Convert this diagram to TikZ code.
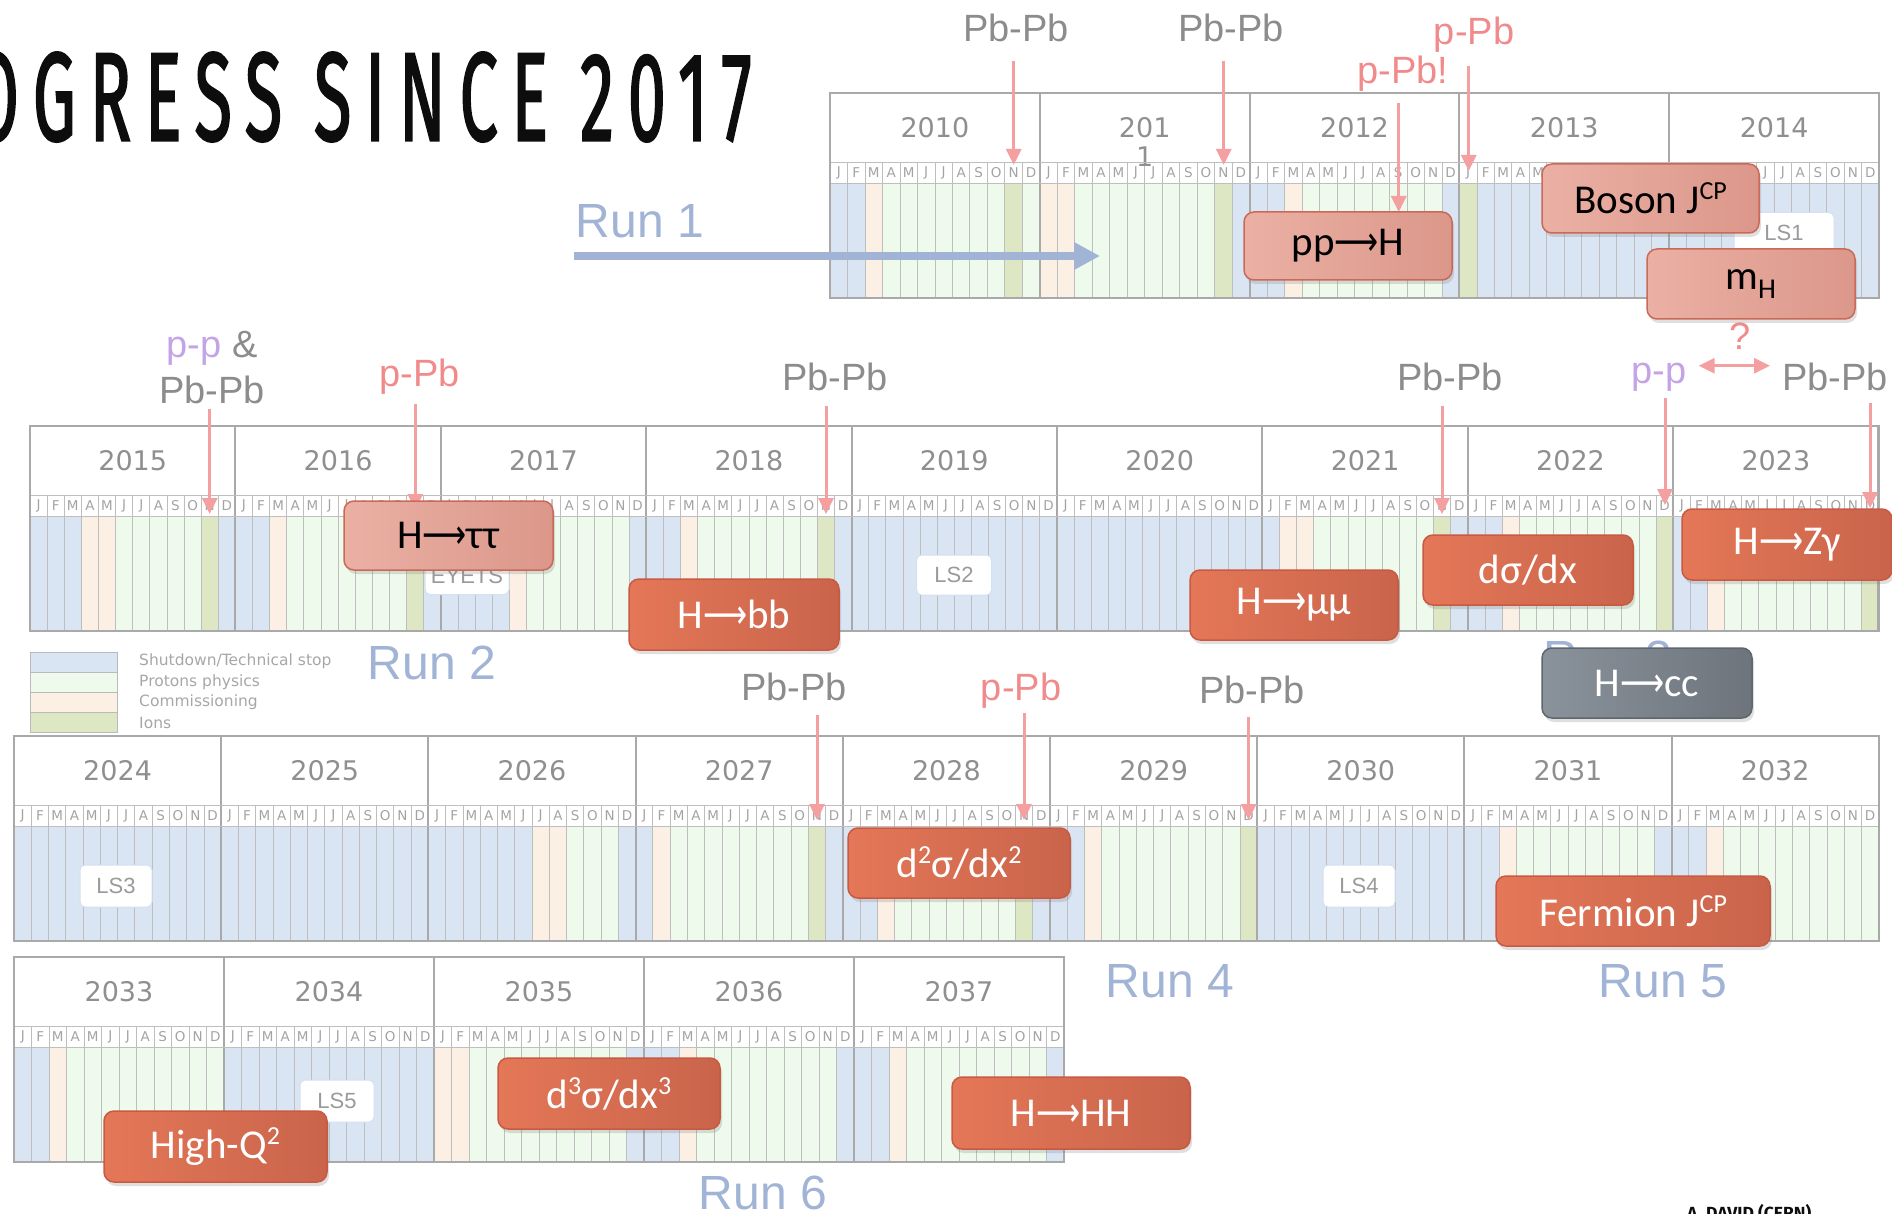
\documentclass[tikz,border=0pt]{standalone}
\usepackage{fontspec}
\setmainfont{DejaVu Sans}
\newfontfamily\lblfont{Liberation Sans}
\newfontfamily\boxfont{Carlito}
\newfontfamily\titlefont[LetterSpace=20,FakeBold=2]{Fira Sans}
\newfontfamily\authorfont{Fira Sans}
\newfontfamily\arrfont{DejaVu Sans}
\usetikzlibrary{arrows.meta}
\usetikzlibrary{shadows}

\definecolor{mB}{HTML}{DAE5F4}
\definecolor{mG}{HTML}{EEFAEC}
\definecolor{mC}{HTML}{FCEFE3}
\definecolor{mI}{HTML}{DDE7C4}
\definecolor{gridgrey}{HTML}{A9A9A9}
\definecolor{yeargrey}{HTML}{8F8F8F}
\definecolor{monthgrey}{HTML}{A3A3A3}
\definecolor{runblue}{HTML}{A1B4D5}
\definecolor{ionpink}{HTML}{F5A0A0}
\definecolor{pinktext}{HTML}{F18B8B}
\definecolor{pbgrey}{HTML}{8C8C8C}
\definecolor{pplilac}{HTML}{C4A4E6}
\definecolor{resred}{HTML}{E47757}
\definecolor{resreddark}{HTML}{C9644B}
\definecolor{resedge}{HTML}{C85A43}
\definecolor{respink}{HTML}{EBB0A4}
\definecolor{respinkdark}{HTML}{DB978A}
\definecolor{respinkedge}{HTML}{C96A58}
\definecolor{resgrey}{HTML}{8A929B}
\definecolor{resgreydark}{HTML}{6D747C}
\definecolor{resgreyedge}{HTML}{5F666D}
\definecolor{lsedge}{HTML}{D3E1F1}
\definecolor{lstext}{HTML}{9A9A9A}
\definecolor{legtextgrey}{HTML}{A7A7A7}

\newcommand{\hto}{{\arrfont\scalebox{0.75}[1]{⟶}}}
\newcommand{\upidx}[1]{\raisebox{14pt}{\fontsize{26}{26}\selectfont #1}}
\newcommand{\yrlabel}[1]{\ifnum#1=2011 201\\1\else#1\fi}
\newcommand{\calrow}[5]{%
  \pgfmathsetmacro{\mw}{#3/12}%
  \foreach \yr/\codes [count=\k from 0] in {#5} {%
    \pgfmathsetmacro{\xa}{#1+\k*#3}%
    \foreach \c [count=\m from 0] in \codes
      \fill[fill=m\c] (\xa+\m*\mw,#2+90) rectangle ++(\mw,115);
    \foreach \ml [count=\m from 0] in {J,F,M,A,M,J,J,A,S,O,N,D} {
      \draw[monthline] (\xa+\m*\mw,#2+69) -- ++(0,136);
      \node[monthtext] (m\yr-\m) at (\xa+\m*\mw+\mw/2,#2+79.5) {\ml};
    }
    \node[yeartext] (y\yr) at (\xa+#3/2,#2+24) {\yrlabel{\yr}};
    \draw[yearline] (\xa,#2) -- ++(0,205);
  }%
  \draw[monthline] (#1,#2+69) -- ++(#3*#4,0) (#1,#2+90) -- ++(#3*#4,0);
  \draw[calframe] (#1,#2) rectangle ++(#3*#4,205);
}

\begin{document}
\begin{tikzpicture}[x=1pt,y=-1pt,
  monthline/.style={draw=gridgrey!75,line width=0.8pt},
  yearline/.style={draw=gridgrey,line width=2pt},
  calframe/.style={draw=gridgrey,line width=2.5pt},
  yeartext/.style={anchor=north,inner sep=0pt,align=center,text=yeargrey,font=\fontsize{27}{29}\selectfont},
  monthtext/.style={inner sep=0pt,text=monthgrey,font=\fontsize{13.5}{13.5}\selectfont},
  lsbox/.style={rounded corners=5pt,fill=white,draw=lsedge,line width=1pt,text=lstext,inner sep=0pt,font=\lblfont\fontsize{22}{22}\selectfont},
  runtext/.style={anchor=base,inner sep=2pt,text=runblue,font=\lblfont\fontsize{48}{48}\selectfont},
  iontext/.style={anchor=base,inner sep=2pt,text=pbgrey,font=\lblfont\fontsize{38}{38}\selectfont},
  pbtext/.style={iontext,text=pinktext},
  pptext/.style={iontext,text=pplilac},
  ionarrow/.style={draw=ionpink,line width=3pt,-{Triangle[length=16pt,width=15pt]}},
  runarrow/.style={draw=runblue,line width=8pt,-{Triangle[length=26pt,width=26pt]}},
  resbox/.style={rounded corners=10pt,line width=1.5pt,draw=resedge,left color=resred,right color=resreddark,
    text=white,inner sep=0pt,minimum height=70pt,font=\boxfont\fontsize{41}{44}\selectfont,
    drop shadow={opacity=0.25,shadow xshift=2pt,shadow yshift=-4pt}},
  pinkbox/.style={resbox,draw=respinkedge,left color=respink,right color=respinkdark,text=black},
  greybox/.style={resbox,draw=resgreyedge,left color=resgrey,right color=resgreydark},
  legswatch/.style={draw=gridgrey!80,line width=1pt,minimum width=87pt,minimum height=20pt,inner sep=0pt},
  legtext/.style={anchor=west,inner sep=0pt,text=legtextgrey,font=\fontsize{15.5}{15.5}\selectfont},
  titletext/.style={inner sep=0pt,text=black!95}]
\useasboundingbox (0,0) rectangle (1892,1214);
\clip (0,0) rectangle (1892,1214);

\calrow{830}{93}{209.8}{5}{2010/{B,B,C,G,G,G,G,G,G,G,I,G},2011/{C,C,G,G,G,G,G,G,G,G,I,B},2012/{B,B,C,G,G,G,G,G,G,G,G,B},2013/{I,B,B,B,B,B,B,B,B,B,B,B},2014/{B,B,B,B,B,B,B,B,B,B,B,B}}
\calrow{30}{426}{205.4}{9}{2015/{B,B,B,C,C,G,G,G,G,G,I,B},2016/{B,B,C,G,G,G,G,G,G,G,I,B},2017/{B,B,B,B,C,G,G,G,G,G,G,B},2018/{B,B,C,G,G,G,G,G,G,G,I,B},2019/{B,B,B,B,B,B,B,B,B,B,B,B},2020/{B,B,B,B,B,B,B,B,B,B,B,B},2021/{B,C,C,G,G,G,G,G,G,G,I,B},2022/{B,B,C,G,G,G,G,G,G,G,G,I},2023/{B,B,C,G,G,G,G,G,G,G,G,I}}
\calrow{14}{736}{207.2}{9}{2024/{B,B,B,B,B,B,B,B,B,B,B,B},2025/{B,B,B,B,B,B,B,B,B,B,B,B},2026/{B,B,B,B,B,B,C,C,G,G,G,B},2027/{B,C,G,G,G,G,G,G,G,G,I,B},2028/{B,B,C,G,G,G,G,G,G,G,I,B},2029/{B,B,C,G,G,G,G,G,G,G,G,I},2030/{B,B,B,B,B,B,B,B,B,B,B,B},2031/{B,B,C,G,G,G,G,G,G,G,G,B},2032/{B,B,C,G,G,G,G,G,G,G,G,G}}
\calrow{14}{957}{210}{5}{2033/{B,B,C,G,G,G,G,G,G,G,G,G},2034/{B,B,B,B,B,B,B,B,B,B,B,B},2035/{C,C,G,G,G,G,G,G,G,G,G,B},2036/{B,B,C,G,G,G,G,G,G,G,G,B},2037/{B,B,C,G,G,G,G,G,G,G,G,B}}

\node[lsbox,minimum width=100pt,minimum height=41pt] (ls1) at (1784,233) {LS1};
\node[lsbox,minimum width=84pt,minimum height=37pt] (eyets) at (467,576) {EYETS};
\node[lsbox,minimum width=75pt,minimum height=40pt] (ls2) at (954,575) {LS2};
\node[lsbox,minimum width=72pt,minimum height=42pt] (ls3) at (116,886) {LS3};
\node[lsbox,minimum width=72pt,minimum height=42pt] (ls4) at (1359,886) {LS4};
\node[lsbox,minimum width=74pt,minimum height=42pt] (ls5) at (337,1101) {LS5};

\node[legswatch,fill=mB] (legB) at (73.5,662) {};
\node[legswatch,fill=mG] (legG) at (73.5,682) {};
\node[legswatch,fill=mC] (legC) at (73.5,702) {};
\node[legswatch,fill=mI] (legI) at (73.5,722) {};
\node[legtext] (legBt) at (139,661) {Shutdown/Technical stop};
\node[legtext] (legGt) at (139,682) {Protons physics};
\node[legtext] (legCt) at (139,702) {Commissioning};
\node[legtext] (legIt) at (139,723) {Ions};

\node[runtext] (run1) at (640,238) {Run 1};
\coordinate (run1end) at (1100,256);
\draw[runarrow] (run1.south west |- run1end) -- (run1end);
\node[runtext] (run2) at (432,679) {Run 2};
\node[runtext] (run3) at (1608,674) {Run 3};
\node[runtext] (run4) at (1170,997) {Run 4};
\node[runtext] (run5) at (1663,997) {Run 5};
\node[runtext] (run6) at (763,1209) {Run 6};

\node[iontext] (pbpbA) at (1016,42) {Pb-Pb};
\node[iontext] (pbpbB) at (1231,42) {Pb-Pb};
\node[pbtext] (ppbA) at (1474,45) {p-Pb};
\node[pbtext] (ppbB) at (1403,84) {p-Pb!};
\coordinate (tipA) at (1013.7,165);
\coordinate (tipB) at (1223.7,165);
\coordinate (tipC) at (1468.7,171);
\coordinate (tipD) at (1398.7,212);
\draw[ionarrow,shorten <=16pt] (tipA |- pbpbA.south) -- (tipA);
\draw[ionarrow,shorten <=16pt] (tipB |- pbpbB.south) -- (tipB);
\draw[ionarrow,shorten <=11pt] (tipC |- ppbA.south) -- (tipC);
\draw[ionarrow,shorten <=9pt] (tipD |- ppbB.south) -- (tipD);

\node[iontext] (pppbA) at (212,358) {\textcolor{pplilac}{p-p} \&};
\node[iontext] (pbpbC) at (212,403) {Pb-Pb};
\node[pbtext] (ppbC) at (420,386) {p-Pb};
\node[iontext] (pbpbD) at (835,390) {Pb-Pb};
\node[iontext] (pbpbE) at (1450,390) {Pb-Pb};
\node[pptext] (ppB) at (1659,384) {p-p};
\node[pbtext] (qmark) at (1740,350) {?};
\node[iontext] (pbpbF) at (1835,390) {Pb-Pb};
\coordinate (tipE) at (209.7,514);
\coordinate (tipF) at (415.2,510);
\coordinate (tipG) at (826,514);
\coordinate (tipH) at (1442,514);
\coordinate (tipI) at (1665,505);
\coordinate (tipJ) at (1870,508);
\draw[ionarrow,shorten <=3pt] (tipE |- pbpbC.south) -- (tipE);
\draw[ionarrow,shorten <=8pt] (tipF |- ppbC.south) -- (tipF);
\draw[ionarrow,shorten <=13pt] (tipG |- pbpbD.south) -- (tipG);
\draw[ionarrow,shorten <=13pt] (tipH |- pbpbE.south) -- (tipH);
\draw[ionarrow,shorten <=4pt] (tipI |- ppB.south) -- (tipI);
\draw[ionarrow,shorten <=10pt] (tipJ |- pbpbF.south) -- (tipJ);
\draw[ionarrow,{Triangle[length=16pt,width=15pt]}-{Triangle[length=16pt,width=15pt]},shorten <=10pt,shorten >=10pt]
  ([yshift=12pt]ppB.east) -- ([yshift=12pt]ppB.east -| pbpbF.west);

\node[iontext] (pbpbG) at (794,700) {Pb-Pb};
\node[pbtext] (ppbD) at (1021,700) {p-Pb};
\node[iontext] (pbpbH) at (1252,703) {Pb-Pb};
\coordinate (tipK) at (817,820);
\coordinate (tipL) at (1024,820);
\coordinate (tipM) at (1248.6,820);
\draw[ionarrow,shorten <=12pt] (tipK |- pbpbG.south) -- (tipK);
\draw[ionarrow,shorten <=3pt] (tipL |- ppbD.south) -- (tipL);
\draw[ionarrow,shorten <=11pt] (tipM |- pbpbH.south) -- (tipM);

\node[pinkbox,minimum width=208pt,minimum height=68pt] (pph) at (1348,246) {pp\hto H};
\node[pinkbox,minimum width=217pt,minimum height=69pt] (bosonjcp) at (1650.5,198.5) {Boson J\upidx{CP}};
\node[pinkbox,minimum width=208pt] (mh) at (1751,284) {m\textsubscript{H}};
\node[pinkbox,minimum width=209pt,minimum height=69pt] (htautau) at (448.5,535.5) {H\hto ττ};
\node[resbox,minimum width=210pt,minimum height=71pt] (hbb) at (734,614.5) {H\hto bb};
\node[resbox,minimum width=208pt] (hmumu) at (1294,605) {H\hto μμ};
\node[resbox,minimum width=210pt] (dsigma) at (1528,570) {dσ/dx};
\node[resbox,minimum width=210pt,minimum height=71pt] (hzgamma) at (1787,544.5) {H\hto Zγ};
\node[greybox,minimum width=210pt] (hcc) at (1647,683) {H\hto cc};
\node[resbox,minimum width=222pt] (dsigma2) at (959,863) {d\upidx{2}σ/dx\upidx{2}};
\node[resbox,minimum width=274pt] (fermionjcp) at (1633,911) {Fermion J\upidx{CP}};
\node[resbox,minimum width=223pt,minimum height=71pt] (highq) at (215.5,1146.5) {High-Q\upidx{2}};
\node[resbox,minimum width=222pt,minimum height=71pt] (dsigma3) at (609,1093.5) {d\upidx{3}σ/dx\upidx{3}};
\node[resbox,minimum width=238pt,minimum height=72pt] (hhh) at (1071,1113) {H\hto HH};

\node[titletext,anchor=south east] (title) at (752,142) {\resizebox{780pt}{88pt}{\titlefont OGRESS SINCE 2017}};
\node[titletext,anchor=north west] (author) at (1687,1204) {\resizebox{124pt}{!}{\authorfont\bfseries A. DAVID (CERN)}};
\end{tikzpicture}
\end{document}
